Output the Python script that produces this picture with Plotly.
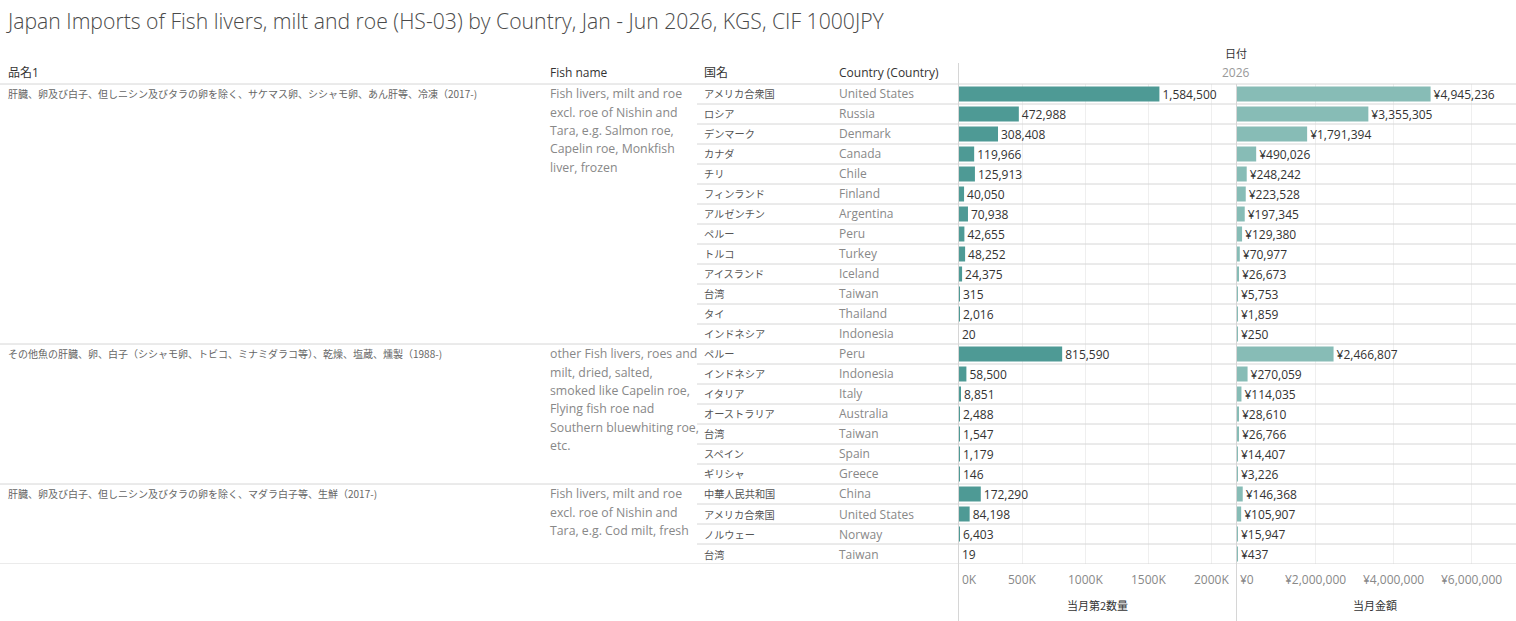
import plotly.graph_objects as go

W, H = 1516, 621

title = "Japan Imports of Fish livers, milt and roe (HS-03) by Country, Jan - Jun 2026, KGS, CIF 1000JPY"

group_jp = [
    "肝臓、卵及び白子、但しニシン及びタラの卵を除く、サケマス卵、シシャモ卵、あん肝等、冷凍（2017-)",
    "その他魚の肝臓、卵、白子（シシャモ卵、トビコ、ミナミダラコ等）、乾燥、塩蔵、燻製（1988-)",
    "肝臓、卵及び白子、但しニシン及びタラの卵を除く、マダラ白子等、生鮮（2017-)",
]
group_en = [
    ["Fish livers, milt and roe", "excl. roe of Nishin and", "Tara, e.g. Salmon roe,",
     "Capelin roe, Monkfish", "liver, frozen"],
    ["other Fish livers, roes and", "milt, dried, salted,", "smoked like Capelin roe,",
     "Flying fish roe nad", "Southern bluewhiting roe,", "etc."],
    ["Fish livers, milt and roe", "excl. roe of Nishin and", "Tara, e.g. Cod milt, fresh"],
]

g1_country_jp = ["アメリカ合衆国", "ロシア", "デンマーク", "カナダ", "チリ", "フィンランド", "アルゼンチン",
                 "ペルー", "トルコ", "アイスランド", "台湾", "タイ", "インドネシア"]
g1_country_en = ["United States", "Russia", "Denmark", "Canada", "Chile", "Finland", "Argentina",
                 "Peru", "Turkey", "Iceland", "Taiwan", "Thailand", "Indonesia"]
g1_qty = [1584500, 472988, 308408, 119966, 125913, 40050, 70938, 42655, 48252, 24375, 315, 2016, 20]
g1_val = [4945236, 3355305, 1791394, 490026, 248242, 223528, 197345, 129380, 70977, 26673, 5753, 1859, 250]

g2_country_jp = ["ペルー", "インドネシア", "イタリア", "オーストラリア", "台湾", "スペイン", "ギリシャ"]
g2_country_en = ["Peru", "Indonesia", "Italy", "Australia", "Taiwan", "Spain", "Greece"]
g2_qty = [815590, 58500, 8851, 2488, 1547, 1179, 146]
g2_val = [2466807, 270059, 114035, 28610, 26766, 14407, 3226]

g3_country_jp = ["中華人民共和国", "アメリカ合衆国", "ノルウェー", "台湾"]
g3_country_en = ["China", "United States", "Norway", "Taiwan"]
g3_qty = [172290, 84198, 6403, 19]
g3_val = [146368, 105907, 15947, 437]

qty_ticks = [0, 500000, 1000000, 1500000, 2000000]
qty_ticktext = ["0K", "500K", "1000K", "1500K", "2000K"]
val_ticks = [0, 2000000, 4000000, 6000000]
val_ticktext = ["¥0", "¥2,000,000", "¥4,000,000", "¥6,000,000"]

headers = ["品名1", "Fish name", "国名", "Country (Country)"]
col_header = "日付"
year_label = "2026"
axis_titles = ["当月第2数量", "当月金額"]

groups = [
    (g1_country_jp, g1_country_en, g1_qty, g1_val),
    (g2_country_jp, g2_country_en, g2_qty, g2_val),
    (g3_country_jp, g3_country_en, g3_qty, g3_val),
]

FONT = "'Open Sans', 'Noto Sans CJK JP', sans-serif"
FONT_JP = "'Noto Sans CJK JP', 'Open Sans', sans-serif"
C_BAR1 = "#4e9a95"
C_BAR2 = "#87bcb6"
C_LINE = "#d6d6d6"
C_GRID = "#efefef"

def X(px):
    return px / W

def Y(py):
    return 1 - py / H

# flatten rows
rows_jp, rows_en, rows_qty, rows_val, group_start = [], [], [], [], []
for cj, ce, q, v in groups:
    group_start.append(len(rows_jp))
    rows_jp += cj
    rows_en += ce
    rows_qty += q
    rows_val += v
n = len(rows_jp)
idx = list(range(n))

ROW_TOP, ROW_H = 84, 20
ROW_BOT = ROW_TOP + ROW_H * n

fig = go.Figure()
fig.add_trace(go.Bar(
    x=rows_qty, y=idx, orientation="h", xaxis="x", yaxis="y", width=0.75,
    marker=dict(color=C_BAR1, line=dict(width=0)),
    text=[f"{v:,}" for v in rows_qty], textposition="outside", constraintext="none",
    textfont=dict(size=12, color="#333333", family=FONT), cliponaxis=False,
    hoverinfo="skip",
))
fig.add_trace(go.Bar(
    x=rows_val, y=idx, orientation="h", xaxis="x2", yaxis="y", width=0.75,
    marker=dict(color=C_BAR2, line=dict(width=0)),
    text=[f"¥{v:,}" for v in rows_val], textposition="outside", constraintext="none",
    textfont=dict(size=12, color="#333333", family=FONT), cliponaxis=False,
    hoverinfo="skip",
))

ann = []
shapes = []

def txt(x, y, s, size=12, color="#555555", xanchor="left", xref="paper", yref="paper",
        family=FONT, weight=None):
    f = dict(size=size, color=color, family=family)
    if weight:
        f["weight"] = weight
    ann.append(dict(x=x, y=y, xref=xref, yref=yref, text=s, showarrow=False,
                    xanchor=xanchor, yanchor="middle", font=f))

# title
txt(X(4), Y(20), title, size=21.2, color="#4a4a4a", weight=300)

# headers
hx = [6, 548, 702, 837]
for h, x in zip(headers, hx):
    txt(X(x), Y(73), h, size=12, color="#333333")
txt(X(1236), Y(53), col_header, size=11, color="#333333", xanchor="center", family=FONT_JP)
txt(X(1236), Y(73), year_label, size=12, color="#999999", xanchor="center")

# row text
for i in idx:
    txt(X(702), i, rows_jp[i], size=10.2, color="#555555", yref="y", family=FONT_JP)
    txt(X(837), i, rows_en[i], size=12, color="#888888", yref="y")

for g, s in enumerate(group_start):
    txt(X(6), s, group_jp[g], size=10, color="#666666", yref="y", family=FONT_JP)
    for k, line in enumerate(group_en[g]):
        txt(X(548), s + k * 0.915, line, size=12.3, color="#888888", yref="y")

# tick labels
for xs, vals, labels in (("x", qty_ticks, qty_ticktext), ("x2", val_ticks, val_ticktext)):
    for j, (v, t) in enumerate(zip(vals, labels)):
        ann.append(dict(x=v, y=Y(579), xref=xs, yref="paper", text=t, showarrow=False,
                        xanchor="left" if j == 0 else "center", yanchor="middle",
                        xshift=1 if j == 0 else 0,
                        font=dict(size=12, color="#888888", family=FONT)))

txt(X(1097), Y(605), axis_titles[0], size=11, color="#333333", xanchor="center", family=FONT_JP)
txt(X(1375), Y(605), axis_titles[1], size=11, color="#333333", xanchor="center", family=FONT_JP)

# lines
def hline(y, x0, x1, yref="y"):
    shapes.append(dict(type="line", xref="paper", yref=yref, x0=x0, x1=x1, y0=y, y1=y,
                       line=dict(color=C_LINE, width=1)))

hline(Y(ROW_TOP), 0, 1, yref="paper")
ends = group_start[1:] + [n]
for s, e in zip(group_start, ends):
    for b in range(s, e - 1):
        hline(b + 0.5, X(697), 1)
    hline(e - 0.5, 0, 1)

shapes.append(dict(type="line", xref="paper", yref="paper", x0=X(958.5), x1=X(958.5),
                   y0=Y(63), y1=0, line=dict(color=C_LINE, width=1)))
shapes.append(dict(type="line", xref="paper", yref="paper", x0=X(1236.5), x1=X(1236.5),
                   y0=Y(ROW_TOP), y1=0, line=dict(color=C_LINE, width=1)))

fig.update_layout(
    width=W, height=H, margin=dict(l=0, r=0, t=0, b=0),
    paper_bgcolor="white", plot_bgcolor="white",
    showlegend=False, barmode="overlay",
    font=dict(family=FONT, size=12, color="#333333"),
    xaxis=dict(domain=[X(959), X(1236)], range=[0, 2190000], anchor="y",
               tickvals=qty_ticks, showticklabels=False, ticks="",
               showgrid=True, gridcolor=C_GRID, gridwidth=1, zeroline=False, showline=False,
               fixedrange=True),
    xaxis2=dict(domain=[X(1237), X(1513)], range=[0, 7050000], anchor="y",
                tickvals=val_ticks, showticklabels=False, ticks="",
                showgrid=True, gridcolor=C_GRID, gridwidth=1, zeroline=False, showline=False,
                fixedrange=True),
    yaxis=dict(domain=[Y(ROW_BOT), Y(ROW_TOP)], range=[n - 0.5, -0.5],
               visible=False, showgrid=False, zeroline=False, fixedrange=True),
    annotations=ann, shapes=shapes,
)

fig.write_html("out.html", config={"displayModeBar": False},
               post_script="document.body.style.margin='0';document.body.style.overflow='hidden';")
